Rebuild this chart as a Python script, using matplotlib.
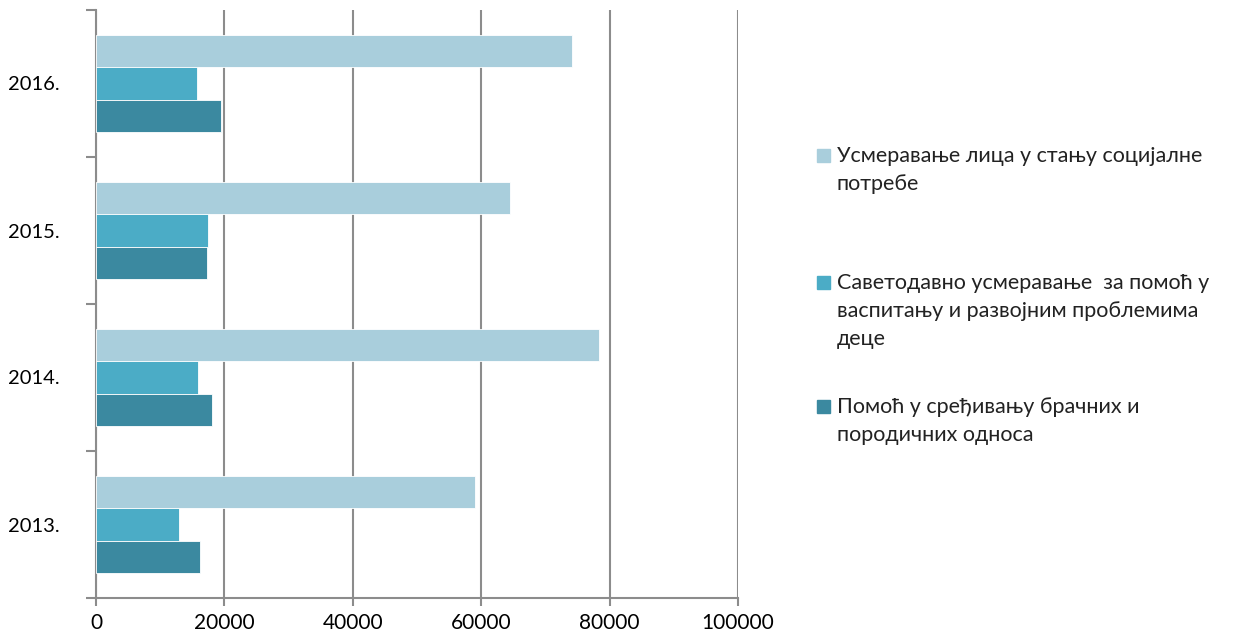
import numpy as np
import matplotlib
matplotlib.use("Agg")
import matplotlib.pyplot as plt
from matplotlib.patches import Rectangle

plt.rcParams['font.family'] = ['Lato', 'DejaVu Sans']

# подаци
years = ['2013.', '2014.', '2015.', '2016.']
usmeravanje = [59100, 78400, 64500, 74100]
savetodavno = [13000, 15900, 17400, 15800]
pomoc = [16200, 18100, 17300, 19400]

labels = ['Усмеравање лица у стању социјалне\nпотребе',
          'Саветодавно усмеравање  за помоћ у\nваспитању и развојним проблемима\nдеце',
          'Помоћ у сређивању брачних и\nпородичних односа']
colors = ['#A9CEDC', '#4BACC6', '#3B89A0']
series = [usmeravanje, savetodavno, pomoc]

fig = plt.figure(figsize=(12.35, 6.4), dpi=100)
ax = fig.add_axes([96 / 1235, 1 - 598 / 640, 642 / 1235, 588 / 640])

y = np.arange(len(years))
h = 0.22
offsets = [h, 0, -h]
for vals, off, c in zip(series, offsets, colors):
    ax.barh(y + off, vals, height=h, color=c, edgecolor='white', linewidth=0.6, zorder=3)

ax.set_xlim(0, 100000)
ax.set_ylim(-0.5, 3.5)
ax.set_xticks(np.arange(0, 100001, 20000))
ax.set_xticklabels([str(v) for v in range(0, 100001, 20000)], fontsize=15)
ax.set_yticks(y)
ax.set_yticklabels(years, fontsize=14.5)
ax.set_yticks(np.arange(-0.5, 3.6, 1), minor=True)

ax.grid(axis='x', color='#8C8C8C', linewidth=1.5, zorder=0)
for s in ['top', 'right']:
    ax.spines[s].set_visible(False)
for s in ['left', 'bottom']:
    ax.spines[s].set_color('#8C8C8C')
    ax.spines[s].set_linewidth(1.5)

ax.tick_params(axis='y', which='major', length=0, pad=26)
ax.tick_params(axis='y', which='minor', length=7, width=1.5, color='#8C8C8C')
ax.tick_params(axis='x', length=6, width=1.5, color='#8C8C8C', pad=5)

# легенда
leg_y = [155, 282, 406]
for lab, c, yy in zip(labels, colors, leg_y):
    fig.add_artist(Rectangle((817 / 1235, 1 - (yy + 7) / 640), 13 / 1235, 13 / 640,
                             transform=fig.transFigure, color=c))
    fig.text(837 / 1235, 1 - (yy - 9) / 640, lab, fontsize=15.5, va='top', ha='left',
             linespacing=1.5, color='#222222')

fig.savefig('out.png', dpi=100)
